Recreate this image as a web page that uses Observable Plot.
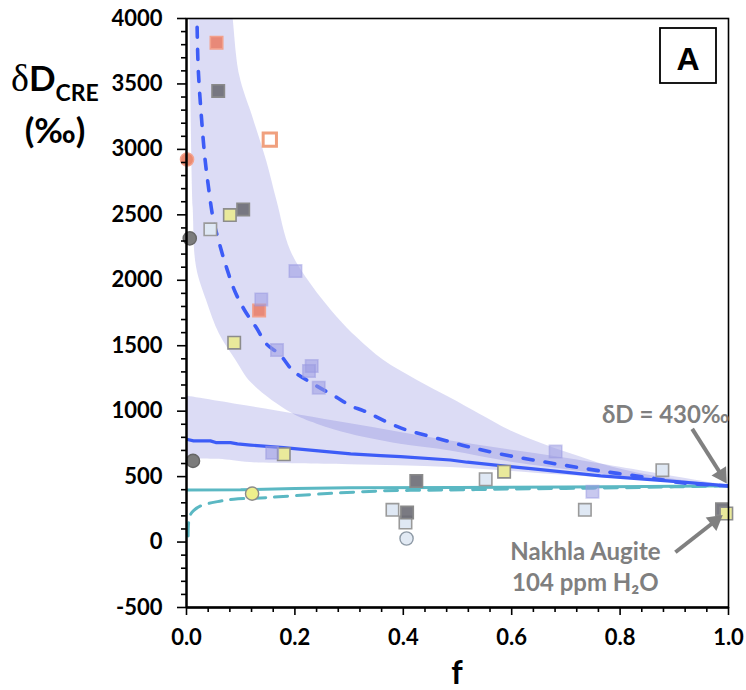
<!DOCTYPE html>
<html><head><meta charset="utf-8">
<script src="https://cdn.jsdelivr.net/npm/d3@7"></script>
<script src="https://cdn.jsdelivr.net/npm/@observablehq/plot@0.6"></script>
<style>body{margin:0;background:#fff;} #chart{width:746px;height:690px;}</style>
</head><body><div id="chart"></div>
<script>
// ---- axis ticks ----
const xMajor = [0, 0.2, 0.4, 0.6, 0.8, 1.0];
const xMinor = [0.04,0.08,0.12,0.16,0.24,0.28,0.32,0.36,0.44,0.48,0.52,0.56,0.64,0.68,0.72,0.76,0.84,0.88,0.92,0.96];
const yMajor = [-500, 0, 500, 1000, 1500, 2000, 2500, 3000, 3500, 4000];
const yMinor = [-400,-300,-200,-100,100,200,300,400,600,700,800,900,1100,1200,1300,1400,1600,1700,1800,1900,2100,2200,2300,2400,2600,2700,2800,2900,3100,3200,3300,3400,3600,3700,3800,3900];

// ---- shaded model envelopes [f, dD] ----
const bigBandUpper = [[0.083,4100],[0.086,4000],[0.098,3566],[0.123,3238],[0.148,2910],[0.167,2605],[0.192,2227],[0.229,1973],[0.278,1718],[0.315,1560],[0.363,1390],[0.426,1234],[0.487,1100],[0.542,975],[0.603,840],[0.666,735],[0.727,650],[0.788,570],[0.88,492],[1,429]];
const bigBandLower = [[0.005,4100],[0.006,4000],[0.0124,2550],[0.0185,2100],[0.037,1846],[0.061,1587],[0.092,1384],[0.12,1215],[0.192,989],[0.241,900],[0.303,823],[0.395,747],[0.487,696],[0.6,610],[0.727,540],[0.85,480],[1,429]];
const lowBandUpper = [[0,1116],[0.118,1035],[0.3,905],[0.487,772],[0.7,640],[1,429]];
const lowBandLower = [[0,635],[0.06,632],[0.118,607],[0.3,590],[0.487,569],[0.7,510],[0.85,470],[1,429]];

// ---- model curves [f, dD] ----
const blueDashed = [[0.019,4100],[0.0215,3631],[0.0277,3238],[0.034,2933],[0.04,2729],[0.049,2475],[0.061,2276],[0.074,2095],[0.089,1918],[0.108,1765],[0.129,1637],[0.148,1511],[0.172,1434],[0.197,1307],[0.234,1208],[0.279,1101],[0.303,1040],[0.327,1002],[0.395,872],[0.456,800],[0.487,765],[0.518,730],[0.579,673],[0.672,604],[0.764,543],[0.856,490],[0.917,451],[1,429]];
const blueSolid = [[0,785],[0.013,773],[0.044,773],[0.054,760],[0.081,760],[0.094,750],[0.118,741],[0.179,722],[0.303,674],[0.358,661],[0.395,652],[0.487,627],[0.518,610],[0.64,559],[0.764,505],[0.887,467],[1,429]];
const tealSolid = [[0,398],[0.1,399],[0.2,410],[0.3,414],[0.5,416],[0.7,420],[0.85,425],[1,430]];
const tealDashed = [[0.003,47],[0.004,150],[0.008,215],[0.013,240],[0.026,276],[0.057,309],[0.087,327],[0.149,340],[0.242,366],[0.363,391],[0.487,398],[0.6,405],[0.75,412],[0.9,422],[1,430]];

// ---- measured samples [f, dD] ----
const lightBlueSquares = [[0.044,2389],[0.380,246],[0.404,149],[0.552,480],[0.735,246],[0.878,549]];
const darkSquares = [[0.0585,3447],[0.1046,2541],[0.424,467],[0.407,225],[0.988,251]];
const yellowSquares = [[0.080,2498],[0.088,1523],[0.1795,671],[0.586,538],[0.996,218]];
const salmonSquares = [[0.0554,3815],[0.134,1770]];
const salmonOpenSquares = [[0.1537,3075]];
const lavenderSquares = [[0.201,2070],[0.138,1854],[0.167,1467],[0.231,1345],[0.226,1307],[0.244,1179],[0.158,683],[0.681,691],[0.749,385]];
const salmonCircles = [[0.001,2923]];
const grayCircles = [[0.006,2320],[0.012,620]];
const yellowCircles = [[0.121,370]];
const lightBlueCircles = [[0.406,27]];

// ---- annotations ----
const noteText = ["δD = 430‰", "Nakhla Augite", "104 ppm H₂O"];
const noteF = [0.884, 0.736, 0.736];
const noteV = [971, -80, -317];
const arrowStartF = [0.933, 0.902];
const arrowStartV = [865, -78];
const arrowHeadF = [0.987, 0.975];
const arrowHeadV = [512, 159];
const arrowAngle = [147.6, 51.8];

function band(upper, lower) {
  const n = Math.max(upper.length, lower.length);
  const pad = a => a.concat(Array(n - a.length).fill(a[a.length - 1]));
  const u = pad(upper), l = pad(lower);
  return u.map((p, i) => ({x1: p[0], y1: p[1], x2: l[i][0], y2: l[i][1]}));
}
const fx = d => d[0], fy = d => d[1];
const bandFill = "rgb(80,80,205)";
const blue = "#3d5cf7", teal = "#5bb8c3";
const font = "Lato, 'Open Sans', sans-serif";

const plot = Plot.plot({
  width: 746, height: 690,
  marginLeft: 186, marginRight: 18, marginTop: 18, marginBottom: 83,
  x: {domain: [0, 1]},
  y: {domain: [-500, 4000]},
  style: {fontFamily: font, fontWeight: "bold", fontSize: "22px", color: "#000", background: "#fff", overflow: "visible"},
  marks: [
    Plot.area(band(bigBandUpper, bigBandLower), {x1: "x1", y1: "y1", x2: "x2", y2: "y2", fill: bandFill, fillOpacity: 0.2, curve: "catmull-rom", clip: true}),
    Plot.area(band(lowBandUpper, lowBandLower), {x1: "x1", y1: "y1", x2: "x2", y2: "y2", fill: bandFill, fillOpacity: 0.2, curve: "catmull-rom", clip: true}),
    Plot.line(tealSolid, {x: fx, y: fy, stroke: teal, strokeWidth: 3, clip: true}),
    Plot.line(tealDashed, {x: fx, y: fy, stroke: teal, strokeWidth: 3, strokeDasharray: "13,9", curve: "catmull-rom", clip: true}),
    Plot.line(blueSolid, {x: fx, y: fy, stroke: blue, strokeWidth: 3.2, clip: true}),
    Plot.line(blueDashed, {x: fx, y: fy, stroke: blue, strokeWidth: 3.6, strokeDasharray: "10,12", strokeLinecap: "round", curve: "catmull-rom", clip: true}),
    Plot.dot(lightBlueSquares, {x: fx, y: fy, symbol: "square", r: 7, fill: "#dfe8f4", stroke: "#9a9a9a", strokeWidth: 1.6}),
    Plot.dot(darkSquares, {x: fx, y: fy, symbol: "square", r: 7, fill: "#6c6c74", fillOpacity: 0.9, stroke: "#8a8a8a", strokeWidth: 1.6}),
    Plot.dot(yellowSquares, {x: fx, y: fy, symbol: "square", r: 7, fill: "#e9e99b", stroke: "#8c8c8c", strokeWidth: 1.6}),
    Plot.dot(salmonSquares, {x: fx, y: fy, symbol: "square", r: 7, fill: "#e9806a", fillOpacity: 0.9, stroke: "#f2a08c", strokeWidth: 1.6}),
    Plot.dot(salmonOpenSquares, {x: fx, y: fy, symbol: "square", r: 7.5, fill: "#fff", stroke: "#f0a07e", strokeWidth: 3}),
    Plot.dot(lavenderSquares, {x: fx, y: fy, symbol: "square", r: 7, fill: "#9a9ae2", fillOpacity: 0.55, stroke: "#9a9ae2", strokeOpacity: 0.5, strokeWidth: 1.6}),
    Plot.dot(salmonCircles, {x: fx, y: fy, r: 6.6, fill: "#ec8a70", stroke: "#f4a490", strokeWidth: 1.4}),
    Plot.dot(grayCircles, {x: fx, y: fy, r: 6.6, fill: "#7c7c7c", stroke: "#666", strokeWidth: 1.4}),
    Plot.dot(yellowCircles, {x: fx, y: fy, r: 6.6, fill: "#eef08c", stroke: "#8c8c8c", strokeWidth: 1.4}),
    Plot.dot(lightBlueCircles, {x: fx, y: fy, r: 6.6, fill: "#e2eaf4", stroke: "#8e9aa6", strokeWidth: 1.4}),
    Plot.frame({stroke: "#000", strokeWidth: 1.6}),
    Plot.ruleX([0], {stroke: "#000", strokeWidth: 2.3}),
    Plot.ruleY([-500], {stroke: "#000", strokeWidth: 2.3}),
    Plot.axisY(yMajor, {tickSize: 9, tickPadding: 15, tickFormat: d => String(d), strokeWidth: 1.6, fontSize: 22, fontWeight: "bold", label: null}),
    Plot.axisY(yMinor, {tickSize: 5, fill: "none", strokeWidth: 1.6, label: null}),
    Plot.axisX(xMajor, {tickSize: 8, tickPadding: 14, tickFormat: d => d.toFixed(1), strokeWidth: 1.6, fontSize: 22, fontWeight: "bold", label: null}),
    Plot.axisX(xMinor, {tickSize: 5, fill: "none", strokeWidth: 1.6, label: null}),
    Plot.link(arrowStartF, {x1: d => d, y1: (d, i) => arrowStartV[i], x2: (d, i) => arrowHeadF[i], y2: (d, i) => arrowHeadV[i], stroke: "#808080", strokeWidth: 4}),
    Plot.dot(arrowHeadF, {x: d => d, y: (d, i) => arrowHeadV[i], symbol: "triangle", r: 6.4, fill: "#808080", stroke: "none", rotate: (d, i) => arrowAngle[i]}),
    Plot.text(noteText, {x: (d, i) => noteF[i], y: (d, i) => noteV[i], text: d => d, fill: "#7f7f7f", fontSize: 24, fontWeight: "bold", fontFamily: font, textAnchor: "middle", lineAnchor: "middle"})
  ]
});
document.getElementById("chart").appendChild(plot);

const svg = d3.select(plot);
// panel label box
svg.append("rect").attr("x", 660).attr("y", 28).attr("width", 56).attr("height", 55)
  .attr("fill", "#fff").attr("stroke", "#000").attr("stroke-width", 1.8);
svg.append("text").attr("x", 688).attr("y", 70).attr("text-anchor", "middle")
  .attr("font-family", "'Liberation Sans', Arial, sans-serif").attr("font-size", 32).attr("font-weight", "bold").text("A");
// y-axis title
const yl = svg.append("text").attr("x", 11).attr("y", 91).attr("text-anchor", "start")
  .attr("font-family", font).attr("font-weight", "bold").attr("fill", "#000");
yl.append("tspan").attr("font-family", "'Liberation Serif', serif").attr("font-weight", "normal").attr("font-size", 38).text("δ");
yl.append("tspan").attr("font-size", 35).text("D");
yl.append("tspan").attr("font-size", 23).attr("dy", 10).text("CRE");
svg.append("text").attr("x", 55).attr("y", 143).attr("text-anchor", "middle").attr("font-family", font)
  .attr("font-weight", "bold").attr("font-size", 35).attr("fill", "#000").text("(‰)");
// x-axis title
svg.append("text").attr("x", 457).attr("y", 684).attr("text-anchor", "middle").attr("font-family", font)
  .attr("font-weight", "bold").attr("font-size", 32).attr("fill", "#000").text("f");
</script>
</body></html>
